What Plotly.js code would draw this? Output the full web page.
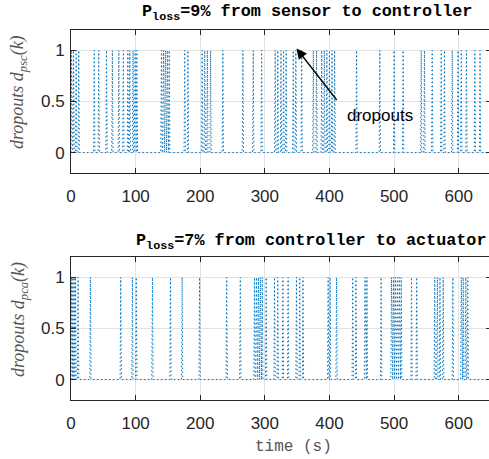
<!DOCTYPE html>
<html><head><meta charset="utf-8">
<script src="https://cdn.plot.ly/plotly-3.0.1.min.js"></script>
<style>html,body{margin:0;padding:0;background:#fff;overflow:hidden}#plot{width:492px;height:459px}</style>
</head><body><div id="plot"></div><script>
// dropout instants (s)
const dropoutsPsc = [1, 4, 8, 12, 36, 43, 55, 64, 74, 81, 88, 91, 96, 99, 102,
  140, 143, 146, 149, 152, 176, 181, 203, 207, 211, 216, 235, 266, 282, 295,
  316, 320, 325, 329, 333, 344, 348, 357, 375, 380, 388, 392, 396, 400, 404, 408,
  442, 478, 500, 514, 542, 547, 559, 573, 578, 590, 599, 604, 612, 625, 633];
const dropoutsPca = [1, 3, 5, 7, 11, 30, 77, 95, 101, 126, 154, 172, 199, 241, 262,
  284, 287, 290, 293, 296, 302, 315, 320, 328, 336, 349, 354, 359, 398, 401, 411,
  436, 441, 455, 458, 480, 496, 499, 502, 505, 508, 511, 527, 535, 563, 567, 571,
  576, 591, 604, 607, 611, 614];
const tEnd = 650;
const xTickVals = [0, 100, 200, 300, 400, 500, 600];
const yTickVals = [0, 0.5, 1];
const yTickText = ['0', '0.5', '1'];
const titlePsc = '<b>P<sub>loss</sub>=9% from sensor to controller</b>';
const titlePca = '<b>P<sub>loss</sub>=7% from controller to actuator</b>';
const yLabelPsc = '<i>dropouts d<sub>psc</sub>(k)</i>';
const yLabelPca = '<i>dropouts d<sub>pca</sub>(k)</i>';
const xLabel = 'time (s)';

function series(times) {
  const x = [0], y = [0];
  times.forEach(t => { x.push(t - 1, t, t + 1); y.push(0, 1, 0); });
  x.push(tEnd); y.push(0);
  return {x, y};
}
const s1 = series(dropoutsPsc), s2 = series(dropoutsPca);
const lineStyle = {color: '#0072BD', width: 1, dash: '1.5px,2.5px'};
const traces = [
  {x: s1.x, y: s1.y, type: 'scatter', mode: 'lines', line: lineStyle, xaxis: 'x', yaxis: 'y', hoverinfo: 'skip'},
  {x: s2.x, y: s2.y, type: 'scatter', mode: 'lines', line: lineStyle, xaxis: 'x2', yaxis: 'y2', hoverinfo: 'skip'}
];
const axColor = '#262626';
const tickFont = {family: 'Liberation Sans, Arial, sans-serif', size: 17, color: axColor};
function xa(anchor) {
  return {domain: [0, 1], range: [0, tEnd], anchor: anchor, tickvals: xTickVals,
    ticks: 'inside', ticklen: 5, tickcolor: axColor, showline: true, linecolor: axColor,
    linewidth: 1, mirror: 'ticks', showgrid: true, gridcolor: '#e2e2e2', zeroline: false,
    tickfont: tickFont, ticklabelstandoff: 8};
}
function ya(anchor, dom) {
  return {domain: dom, range: [-0.2, 1.2], anchor: anchor, tickvals: yTickVals, ticktext: yTickText,
    ticks: 'inside', ticklen: 5, tickcolor: axColor, showline: true, linecolor: axColor,
    linewidth: 1, mirror: 'ticks', showgrid: true, gridcolor: '#e2e2e2', zeroline: false,
    tickfont: tickFont, ticklabelstandoff: 2};
}
const L = 71, PW = 420, B = 400, PH = 370;
const px = v => (v - L) / PW, py = v => (B - v) / PH;
const monoTitle = {family: 'Liberation Mono, Courier New, monospace', size: 16.8, color: '#000'};
const labFont = {family: 'Liberation Serif, DejaVu Serif, serif', size: 18, color: '#555'};
const layout = {
  width: 492, height: 459,
  margin: {l: L, r: 1, t: 30, b: 59},
  paper_bgcolor: '#fff', plot_bgcolor: '#fff', showlegend: false,
  xaxis: xa('y'), yaxis: ya('x', [0.6135, 1]),
  xaxis2: xa('y2'), yaxis2: ya('x2', [0, 0.3865]),
  annotations: [
    {text: titlePsc, xref: 'paper', yref: 'paper', x: px(140), y: py(13), xanchor: 'left', yanchor: 'middle', showarrow: false, font: monoTitle},
    {text: titlePca, xref: 'paper', yref: 'paper', x: px(134), y: py(242), xanchor: 'left', yanchor: 'middle', showarrow: false, font: monoTitle},
    {text: yLabelPsc, xref: 'paper', yref: 'paper', x: px(19), y: py(92), xanchor: 'center', yanchor: 'middle', textangle: -90, showarrow: false, font: labFont},
    {text: yLabelPca, xref: 'paper', yref: 'paper', x: px(19), y: py(320), xanchor: 'center', yanchor: 'middle', textangle: -90, showarrow: false, font: labFont},
    {text: xLabel, xref: 'paper', yref: 'paper', x: px(293), y: py(447), xanchor: 'center', yanchor: 'middle', showarrow: false, font: {family: 'Liberation Mono, Courier New, monospace', size: 16, color: '#555'}},
    {text: 'dropouts', xref: 'paper', yref: 'paper', x: px(380), y: py(115), xanchor: 'center', yanchor: 'middle', showarrow: false, font: {family: 'Liberation Sans, Arial, sans-serif', size: 17, color: '#000'}},
    {text: '', xref: 'x', yref: 'y', x: 349, y: 1.02, axref: 'x', ayref: 'y', ax: 413, ay: 0.5, showarrow: true, arrowhead: 2, arrowsize: 1.6, arrowwidth: 1.3, arrowcolor: '#000', standoff: 0}
  ]
};
Plotly.newPlot('plot', traces, layout, {staticPlot: true, displayModeBar: false});
</script></body></html>
